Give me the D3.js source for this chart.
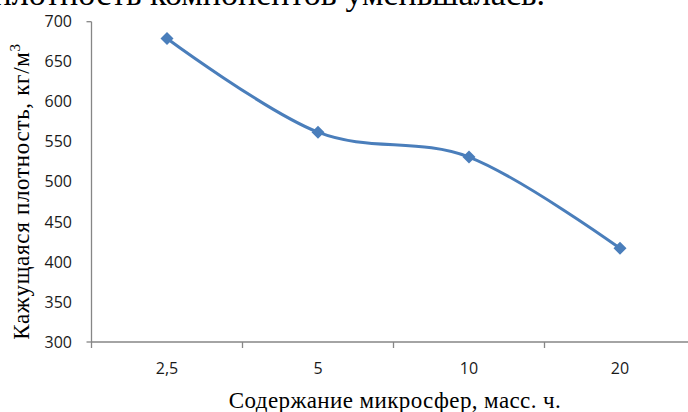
<!DOCTYPE html>
<html>
<head>
<meta charset="utf-8">
<script src="https://cdn.jsdelivr.net/npm/d3@7"></script>
<style>
  html, body { margin: 0; padding: 0; background: #fff; }
  svg { display: block; }
</style>
</head>
<body>
<div id="chart"></div>
<script>
// ---- data ----
const categories = ["2,5", "5", "10", "20"];
const densityValues = [679, 562, 531, 417];
const yTickValues = [300, 350, 400, 450, 500, 550, 600, 650, 700];
const yTitle = "Кажущаяся  плотность,  кг/м";
const xTitle = "Содержание микросфер,  масс. ч.";
const topText = "плотность компонентов уменьшалась.";

(function () {
const W = 688, H = 412;
const svg = d3.select("#chart").append("svg").attr("width", W).attr("height", H);

const plotLeft = 91.5, band = 151, plotTop = 21.7, plotBottom = 342;
const x = d3.scaleBand().domain(categories).range([plotLeft, plotLeft + band * categories.length]);
const y = d3.scaleLinear().domain([300, 700]).range([plotBottom, plotTop]);

const axisColor = "#868686";
const blue = "#4a7ebb";

// top cut-off text (fragment of the surrounding document)
svg.append("text")
  .attr("x", 545).attr("y", 5)
  .attr("text-anchor", "end")
  .attr("font-family", "'Liberation Serif', 'Times New Roman', serif")
  .attr("font-size", 34)
  .attr("fill", "#000")
  .text(topText);

// axes lines
svg.append("line").attr("x1", plotLeft).attr("x2", W + 10).attr("y1", plotBottom).attr("y2", plotBottom)
  .attr("stroke", axisColor).attr("stroke-width", 1.3);
svg.append("line").attr("x1", plotLeft).attr("x2", plotLeft).attr("y1", y(700)).attr("y2", plotBottom)
  .attr("stroke", axisColor).attr("stroke-width", 1.3);

// x boundary ticks
const bounds = categories.map(c => x(c)).concat([x(categories[categories.length - 1]) + x.bandwidth()]);
svg.selectAll(".xt").data(bounds).enter().append("line")
  .attr("x1", d => d).attr("x2", d => d).attr("y1", plotBottom).attr("y2", plotBottom + 6)
  .attr("stroke", axisColor).attr("stroke-width", 1.3);
// y end ticks
svg.selectAll(".yt").data([300, 700]).enter().append("line")
  .attr("x1", plotLeft - 5).attr("x2", plotLeft).attr("y1", d => y(d)).attr("y2", d => y(d))
  .attr("stroke", axisColor).attr("stroke-width", 1.3);

// y tick labels
const yAxis = svg.append("g").attr("transform", `translate(${plotLeft},0)`)
  .call(d3.axisLeft(y).tickValues(yTickValues).tickSize(0).tickPadding(19.5));
yAxis.select(".domain").remove();
yAxis.selectAll("text").attr("font-family", "'Open Sans', sans-serif").attr("font-size", 16).attr("fill", "#1a1a1a");

// x tick labels
const xAxis = svg.append("g").attr("transform", `translate(0,${plotBottom})`)
  .call(d3.axisBottom(x).tickSize(0).tickPadding(21));
xAxis.select(".domain").remove();
xAxis.selectAll("text").attr("font-family", "'Open Sans', sans-serif").attr("font-size", 16).attr("fill", "#1a1a1a");

// line
const pts = categories.map((c, i) => [x(c) + x.bandwidth() / 2, y(densityValues[i])]);
svg.append("path")
  .attr("d", d3.line().curve(d3.curveCardinal.tension(0))(pts))
  .attr("fill", "none").attr("stroke", blue).attr("stroke-width", 3);

// diamond markers
const r = 6.5;
svg.selectAll(".mk").data(pts).enter().append("path")
  .attr("d", d => `M${d[0]},${d[1] - r}L${d[0] + r},${d[1]}L${d[0]},${d[1] + r}L${d[0] - r},${d[1]}Z`)
  .attr("fill", blue);

// y title
const yt = svg.append("text")
  .attr("transform", `translate(29,${(35 + 348) / 2}) rotate(-90)`)
  .attr("text-anchor", "middle")
  .attr("font-family", "'Liberation Serif', 'Times New Roman', serif")
  .attr("font-size", 23)
  .attr("letter-spacing", 0.7)
  .attr("fill", "#000");
yt.append("tspan").text(yTitle);
yt.append("tspan").attr("font-size", 15).attr("dy", -9).text("3");

// x title
svg.append("text")
  .attr("x", 395).attr("y", 408)
  .attr("text-anchor", "middle")
  .attr("font-family", "'Liberation Serif', 'Times New Roman', serif")
  .attr("font-size", 23)
  .attr("letter-spacing", 0.4)
  .attr("fill", "#000")
  .text(xTitle);
})();
</script>
</body>
</html>
